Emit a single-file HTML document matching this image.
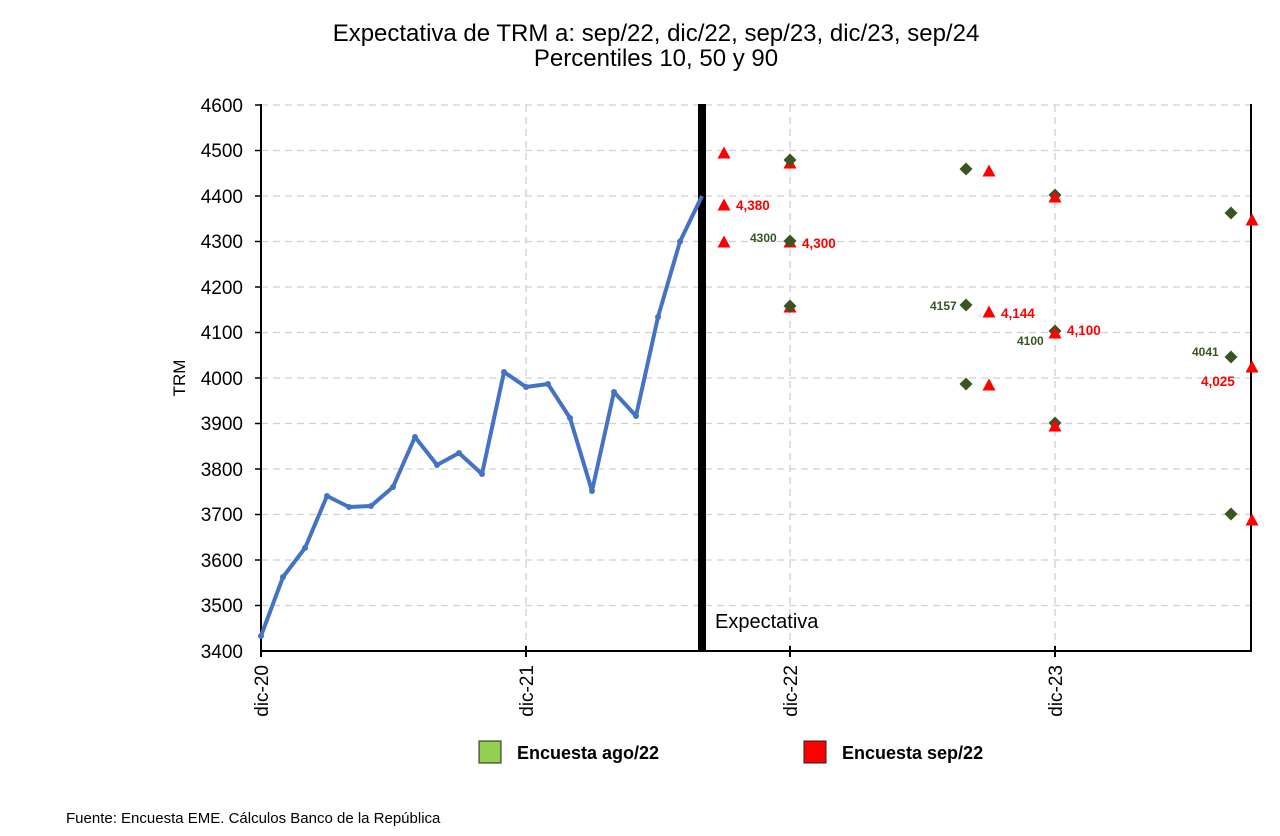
<!DOCTYPE html><html><head><meta charset="utf-8"><style>body{margin:0;background:#fff}svg{display:block;font-family:"Liberation Sans",Arial,sans-serif}</style></head><body>
<svg width="1280" height="836" viewBox="0 0 1280 836">
<defs>
<path id="d" d="M0,-6.5 L6.5,0 L0,6.5 L-6.5,0Z" fill="#375623"/>
<path id="t" d="M0,-6.5 L6.5,5.5 L-6.5,5.5Z" fill="#ff0000"/>
</defs>
<text x="656" y="41" font-size="24" text-anchor="middle">Expectativa de TRM a: sep/22, dic/22, sep/23, dic/23, sep/24</text>
<text x="656" y="66" font-size="24" text-anchor="middle">Percentiles 10, 50 y 90</text>
<g stroke="#d0d0d0" stroke-dasharray="7,5" stroke-width="1.3">
<line x1="261" x2="1251" y1="105" y2="105"/><line x1="261" x2="1251" y1="150.5" y2="150.5"/><line x1="261" x2="1251" y1="196" y2="196"/><line x1="261" x2="1251" y1="241.5" y2="241.5"/><line x1="261" x2="1251" y1="287" y2="287"/><line x1="261" x2="1251" y1="332.5" y2="332.5"/><line x1="261" x2="1251" y1="378" y2="378"/><line x1="261" x2="1251" y1="423.5" y2="423.5"/><line x1="261" x2="1251" y1="469" y2="469"/><line x1="261" x2="1251" y1="514.5" y2="514.5"/><line x1="261" x2="1251" y1="560" y2="560"/><line x1="261" x2="1251" y1="605.5" y2="605.5"/>
<line x1="526" x2="526" y1="105" y2="651"/><line x1="790" x2="790" y1="105" y2="651"/><line x1="1055" x2="1055" y1="105" y2="651"/>
</g>
<g stroke="#000" stroke-width="2" fill="none">
<line x1="261" y1="104" x2="261" y2="651"/><line x1="260" y1="651" x2="1252" y2="651"/><line x1="1251" y1="104" x2="1251" y2="651"/>
<line x1="526" y1="646" x2="526" y2="657"/><line x1="790" y1="646" x2="790" y2="657"/><line x1="1055" y1="646" x2="1055" y2="657"/><line x1="261" y1="651" x2="261" y2="657"/>
</g>
<g stroke="#000" stroke-width="1.5"><line x1="255" x2="261" y1="105" y2="105"/><line x1="255" x2="261" y1="150.5" y2="150.5"/><line x1="255" x2="261" y1="196" y2="196"/><line x1="255" x2="261" y1="241.5" y2="241.5"/><line x1="255" x2="261" y1="287" y2="287"/><line x1="255" x2="261" y1="332.5" y2="332.5"/><line x1="255" x2="261" y1="378" y2="378"/><line x1="255" x2="261" y1="423.5" y2="423.5"/><line x1="255" x2="261" y1="469" y2="469"/><line x1="255" x2="261" y1="514.5" y2="514.5"/><line x1="255" x2="261" y1="560" y2="560"/><line x1="255" x2="261" y1="605.5" y2="605.5"/></g>
<g font-size="19" text-anchor="end">
<text x="243" y="112">4600</text><text x="243" y="157">4500</text><text x="243" y="203">4400</text><text x="243" y="248">4300</text><text x="243" y="294">4200</text><text x="243" y="339">4100</text><text x="243" y="385">4000</text><text x="243" y="430">3900</text><text x="243" y="476">3800</text><text x="243" y="521">3700</text><text x="243" y="567">3600</text><text x="243" y="612">3500</text><text x="243" y="658">3400</text>
</g>
<text transform="translate(185,378) rotate(-90)" font-size="17" text-anchor="middle">TRM</text>
<g font-size="19" text-anchor="end">
<text transform="translate(268,665) rotate(-90)">dic-20</text>
<text transform="translate(533,665) rotate(-90)">dic-21</text>
<text transform="translate(797,665) rotate(-90)">dic-22</text>
<text transform="translate(1062,665) rotate(-90)">dic-23</text>
</g>
<line x1="702" y1="104" x2="702" y2="651" stroke="#000" stroke-width="8"/>
<text x="715" y="628" font-size="20">Expectativa</text>
<polyline fill="none" stroke="#4472c4" stroke-width="4" stroke-linejoin="round" points="261,636 283,577 305,548 327,496 349,507 371,506 393,487 415,437 437,465 459,453 482,474 504,372 526,387 548,384 570,418 592,491 614,392 636,416 658,317 680,241.5 702,196"/>
<g fill="#4472c4"><circle cx="261" cy="636" r="3"/><circle cx="283" cy="577" r="3"/><circle cx="305" cy="548" r="3"/><circle cx="327" cy="496" r="3"/><circle cx="349" cy="507" r="3"/><circle cx="371" cy="506" r="3"/><circle cx="393" cy="487" r="3"/><circle cx="415" cy="437" r="3"/><circle cx="437" cy="465" r="3"/><circle cx="459" cy="453" r="3"/><circle cx="482" cy="474" r="3"/><circle cx="504" cy="372" r="3"/><circle cx="526" cy="387" r="3"/><circle cx="548" cy="384" r="3"/><circle cx="570" cy="418" r="3"/><circle cx="592" cy="491" r="3"/><circle cx="614" cy="392" r="3"/><circle cx="636" cy="416" r="3"/><circle cx="658" cy="317" r="3"/><circle cx="680" cy="241.5" r="3"/></g>
<use href="#t" x="724" y="153"/><use href="#t" x="724" y="205"/><use href="#t" x="724" y="242"/>
<use href="#t" x="790" y="163"/><use href="#t" x="790" y="242"/><use href="#t" x="790" y="307"/>
<use href="#d" x="790" y="160"/><use href="#d" x="790" y="241"/><use href="#d" x="790" y="306"/>
<use href="#d" x="966" y="169"/><use href="#d" x="966" y="305"/><use href="#d" x="966" y="384"/>
<use href="#t" x="989" y="171"/><use href="#t" x="989" y="312"/><use href="#t" x="989" y="385"/>
<use href="#d" x="1055" y="195"/><use href="#d" x="1055" y="331"/><use href="#d" x="1055" y="423"/>
<use href="#t" x="1055" y="197"/><use href="#t" x="1055" y="333"/><use href="#t" x="1055" y="426"/>
<use href="#d" x="1231" y="213"/><use href="#d" x="1231" y="357"/><use href="#d" x="1231" y="514"/>
<use href="#t" x="1252" y="220"/><use href="#t" x="1252" y="367"/><use href="#t" x="1252" y="520"/>
<g font-size="13.5" font-weight="bold" fill="#ff0000">
<text x="736" y="210">4,380</text><text x="802" y="248">4,300</text><text x="1001" y="318">4,144</text><text x="1067" y="335">4,100</text><text x="1201" y="386">4,025</text>
</g>
<g font-size="12" font-weight="bold" fill="#375623">
<text x="750" y="242">4300</text><text x="930" y="310">4157</text><text x="1017" y="345">4100</text><text x="1192" y="356">4041</text>
</g>
<rect x="479" y="741" width="22" height="22" fill="#92d050" stroke="#222" stroke-width="1"/>
<text x="517" y="759" font-size="18" font-weight="bold">Encuesta ago/22</text>
<rect x="804" y="741" width="22" height="22" fill="#ff0000" stroke="#222" stroke-width="1"/>
<text x="842" y="759" font-size="18" font-weight="bold">Encuesta sep/22</text>
<text x="66" y="823" font-size="15">Fuente: Encuesta EME. Cálculos Banco de la República</text>
</svg>
</body></html>
